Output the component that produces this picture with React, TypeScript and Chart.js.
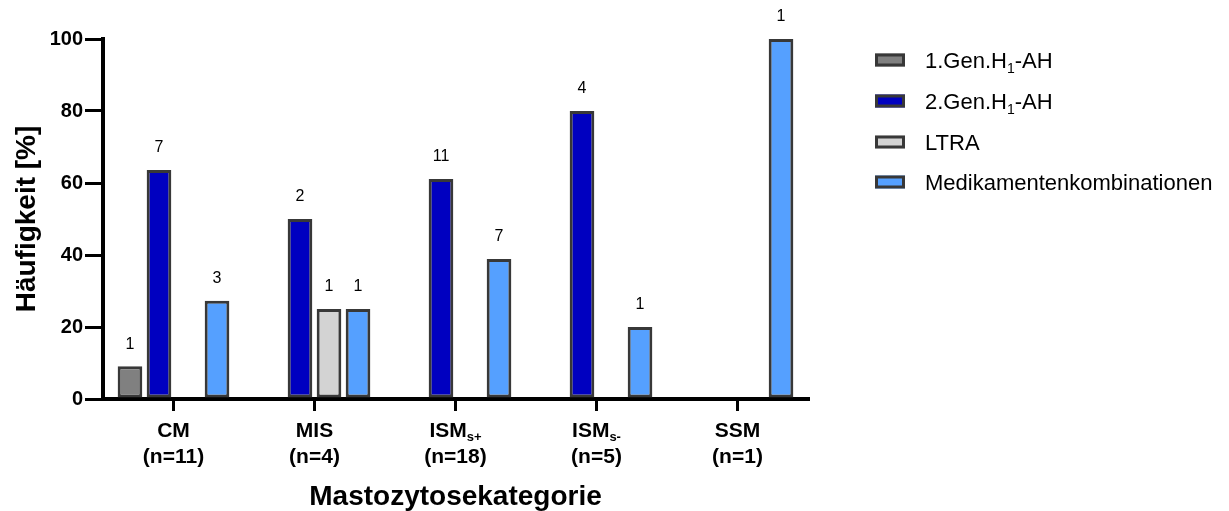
import React, { useEffect, useRef } from "react";
import { Chart, registerables } from "chart.js";

Chart.register(...registerables);

const FONT = "'Liberation Sans', Arial, Helvetica, sans-serif";

// Categories (x axis)
const categories = ["CM", "MIS", "ISM", "ISM", "SSM"];
const categorySubs = ["", "", "s+", "s-", ""];
const categoryN = ["(n=11)", "(n=4)", "(n=18)", "(n=5)", "(n=1)"];

// Series names (legend)
const seriesNames = ["1.Gen.H1-AH", "2.Gen.H1-AH", "LTRA", "Medikamentenkombinationen"];
const legendMain = ["1.Gen.H", "2.Gen.H", "LTRA", "Medikamentenkombinationen"];
const legendSub = ["1", "1", "", ""];
const legendSuffix = ["-AH", "-AH", "", ""];

// Percent values per series
const gen1Pct = [9.1, null, null, null, null];
const gen2Pct = [63.6, 50, 61.1, 80, null];
const ltraPct = [null, 25, null, null, null];
const comboPct = [27.3, 25, 38.9, 20, 100];

// Counts shown above bars
const gen1Count = [1, null, null, null, null];
const gen2Count = [7, 2, 11, 4, null];
const ltraCount = [null, 1, null, null, null];
const comboCount = [3, 1, 7, 1, 1];

// Y tick values
const yTicks = [0, 20, 40, 60, 80, 100];

const seriesValues = [gen1Pct, gen2Pct, ltraPct, comboPct];
const seriesCounts = [gen1Count, gen2Count, ltraCount, comboCount];
const seriesColors = ["#808080", "#0000C0", "#D3D3D3", "#55A0FF"];
const BORDER = "#383838";

const labelsPlugin = {
  id: "customLabels",
  afterDatasetsDraw(chart: any) {
    const ctx = chart.ctx;
    ctx.save();
    ctx.fillStyle = "#000";
    ctx.font = `16px ${FONT}`;
    ctx.textAlign = "center";
    ctx.textBaseline = "middle";
    chart.data.datasets.forEach((_ds: any, i: number) => {
      const meta = chart.getDatasetMeta(i);
      meta.data.forEach((bar: any, j: number) => {
        const c = seriesCounts[i][j];
        if (c === null || c === undefined) return;
        ctx.fillText(String(c), bar.x, bar.y - 22);
      });
    });
    ctx.restore();
  },
  afterDraw(chart: any) {
    const ctx = chart.ctx;
    const xs = chart.scales.x;
    ctx.save();
    ctx.fillStyle = "#000";
    ctx.textBaseline = "alphabetic";
    // x tick labels
    categories.forEach((cat, i) => {
      const x = xs.getPixelForValue(i);
      const base1 = xs.top + 37.5;
      const base2 = xs.top + 63.5;
      const mainFont = `bold 21px ${FONT}`;
      const subFont = `bold 13px ${FONT}`;
      ctx.font = mainFont;
      const w1 = ctx.measureText(cat).width;
      ctx.font = subFont;
      const w2 = categorySubs[i] ? ctx.measureText(categorySubs[i]).width : 0;
      const start = x - (w1 + w2) / 2;
      ctx.textAlign = "left";
      ctx.font = mainFont;
      ctx.fillText(cat, start, base1);
      if (categorySubs[i]) {
        ctx.font = subFont;
        ctx.fillText(categorySubs[i], start + w1, base1 + 4);
      }
      ctx.font = mainFont;
      ctx.textAlign = "center";
      ctx.fillText(categoryN[i], x, base2);
    });

    // legend
    const lx = 875;
    const tx = 925;
    const rowY = [60, 101, 142, 182];
    seriesNames.forEach((_n, i) => {
      const cy = rowY[i];
      ctx.fillStyle = seriesColors[i];
      ctx.fillRect(lx, cy - 6.5, 30, 13);
      ctx.strokeStyle = BORDER;
      ctx.lineWidth = 3;
      ctx.strokeRect(lx + 1.5, cy - 5, 27, 10);
      ctx.fillStyle = "#000";
      ctx.textAlign = "left";
      const base = cy + 8;
      ctx.font = `22px ${FONT}`;
      let x = tx;
      ctx.fillText(legendMain[i], x, base);
      x += ctx.measureText(legendMain[i]).width;
      if (legendSub[i]) {
        ctx.font = `14px ${FONT}`;
        ctx.fillText(legendSub[i], x, base + 5);
        x += ctx.measureText(legendSub[i]).width;
      }
      if (legendSuffix[i]) {
        ctx.font = `22px ${FONT}`;
        ctx.fillText(legendSuffix[i], x, base);
      }
    });
    ctx.restore();
  },
};

export default function App() {
  const ref = useRef<HTMLCanvasElement | null>(null);

  useEffect(() => {
    if (!ref.current) return;
    const chart = new Chart(ref.current, {
      type: "bar",
      data: {
        labels: categories,
        datasets: seriesNames.map((name, i) => ({
          label: name,
          data: seriesValues[i] as any,
          backgroundColor: seriesColors[i],
          borderColor: BORDER,
          borderWidth: 3,
          borderSkipped: false,
          clip: false as any,
          categoryPercentage: 0.823,
          barPercentage: 0.85,
        })),
      },
      options: {
        responsive: false,
        animation: false,
        layout: { padding: { top: 39, right: 421, bottom: 0, left: 0 } },
        plugins: {
          legend: { display: false },
          tooltip: { enabled: false },
        },
        scales: {
          x: {
            grid: {
              display: true,
              drawOnChartArea: false,
              drawTicks: true,
              tickLength: 12,
              lineWidth: 3,
              color: "#000",
              offset: false,
            },
            border: { display: true, width: 4, color: "#000" },
            ticks: { display: false },
            title: {
              display: true,
              text: "Mastozytosekategorie",
              color: "#000",
              font: { family: FONT, size: 28, weight: "bold", lineHeight: 1 },
              padding: { top: 0, bottom: 0 },
            },
            afterFit: (s: any) => {
              s.height = 112;
            },
          },
          y: {
            min: 0,
            max: 100,
            afterBuildTicks: (s: any) => {
              s.ticks = yTicks.map((v) => ({ value: v }));
            },
            ticks: {
              color: "#000",
              padding: 2,
              font: { family: FONT, size: 20, weight: "bold" },
            },
            grid: {
              drawOnChartArea: false,
              drawTicks: true,
              tickLength: 18,
              lineWidth: 3,
              color: "#000",
            },
            border: { display: true, width: 4, color: "#000" },
            title: {
              display: true,
              text: "Häufigkeit [%]",
              color: "#000",
              font: { family: FONT, size: 28, weight: "bold" },
              padding: { top: 10, bottom: 0 },
            },
            afterFit: (s: any) => {
              s.width = 103;
            },
          },
        },
      },
      plugins: [labelsPlugin],
    });
    return () => chart.destroy();
  }, []);

  return (
    <div style={{ position: "absolute", left: 0, top: 0, width: 1229, height: 511, background: "#fff" }}>
      <canvas ref={ref} width={1229} height={511} style={{ display: "block" }} />
    </div>
  );
}
